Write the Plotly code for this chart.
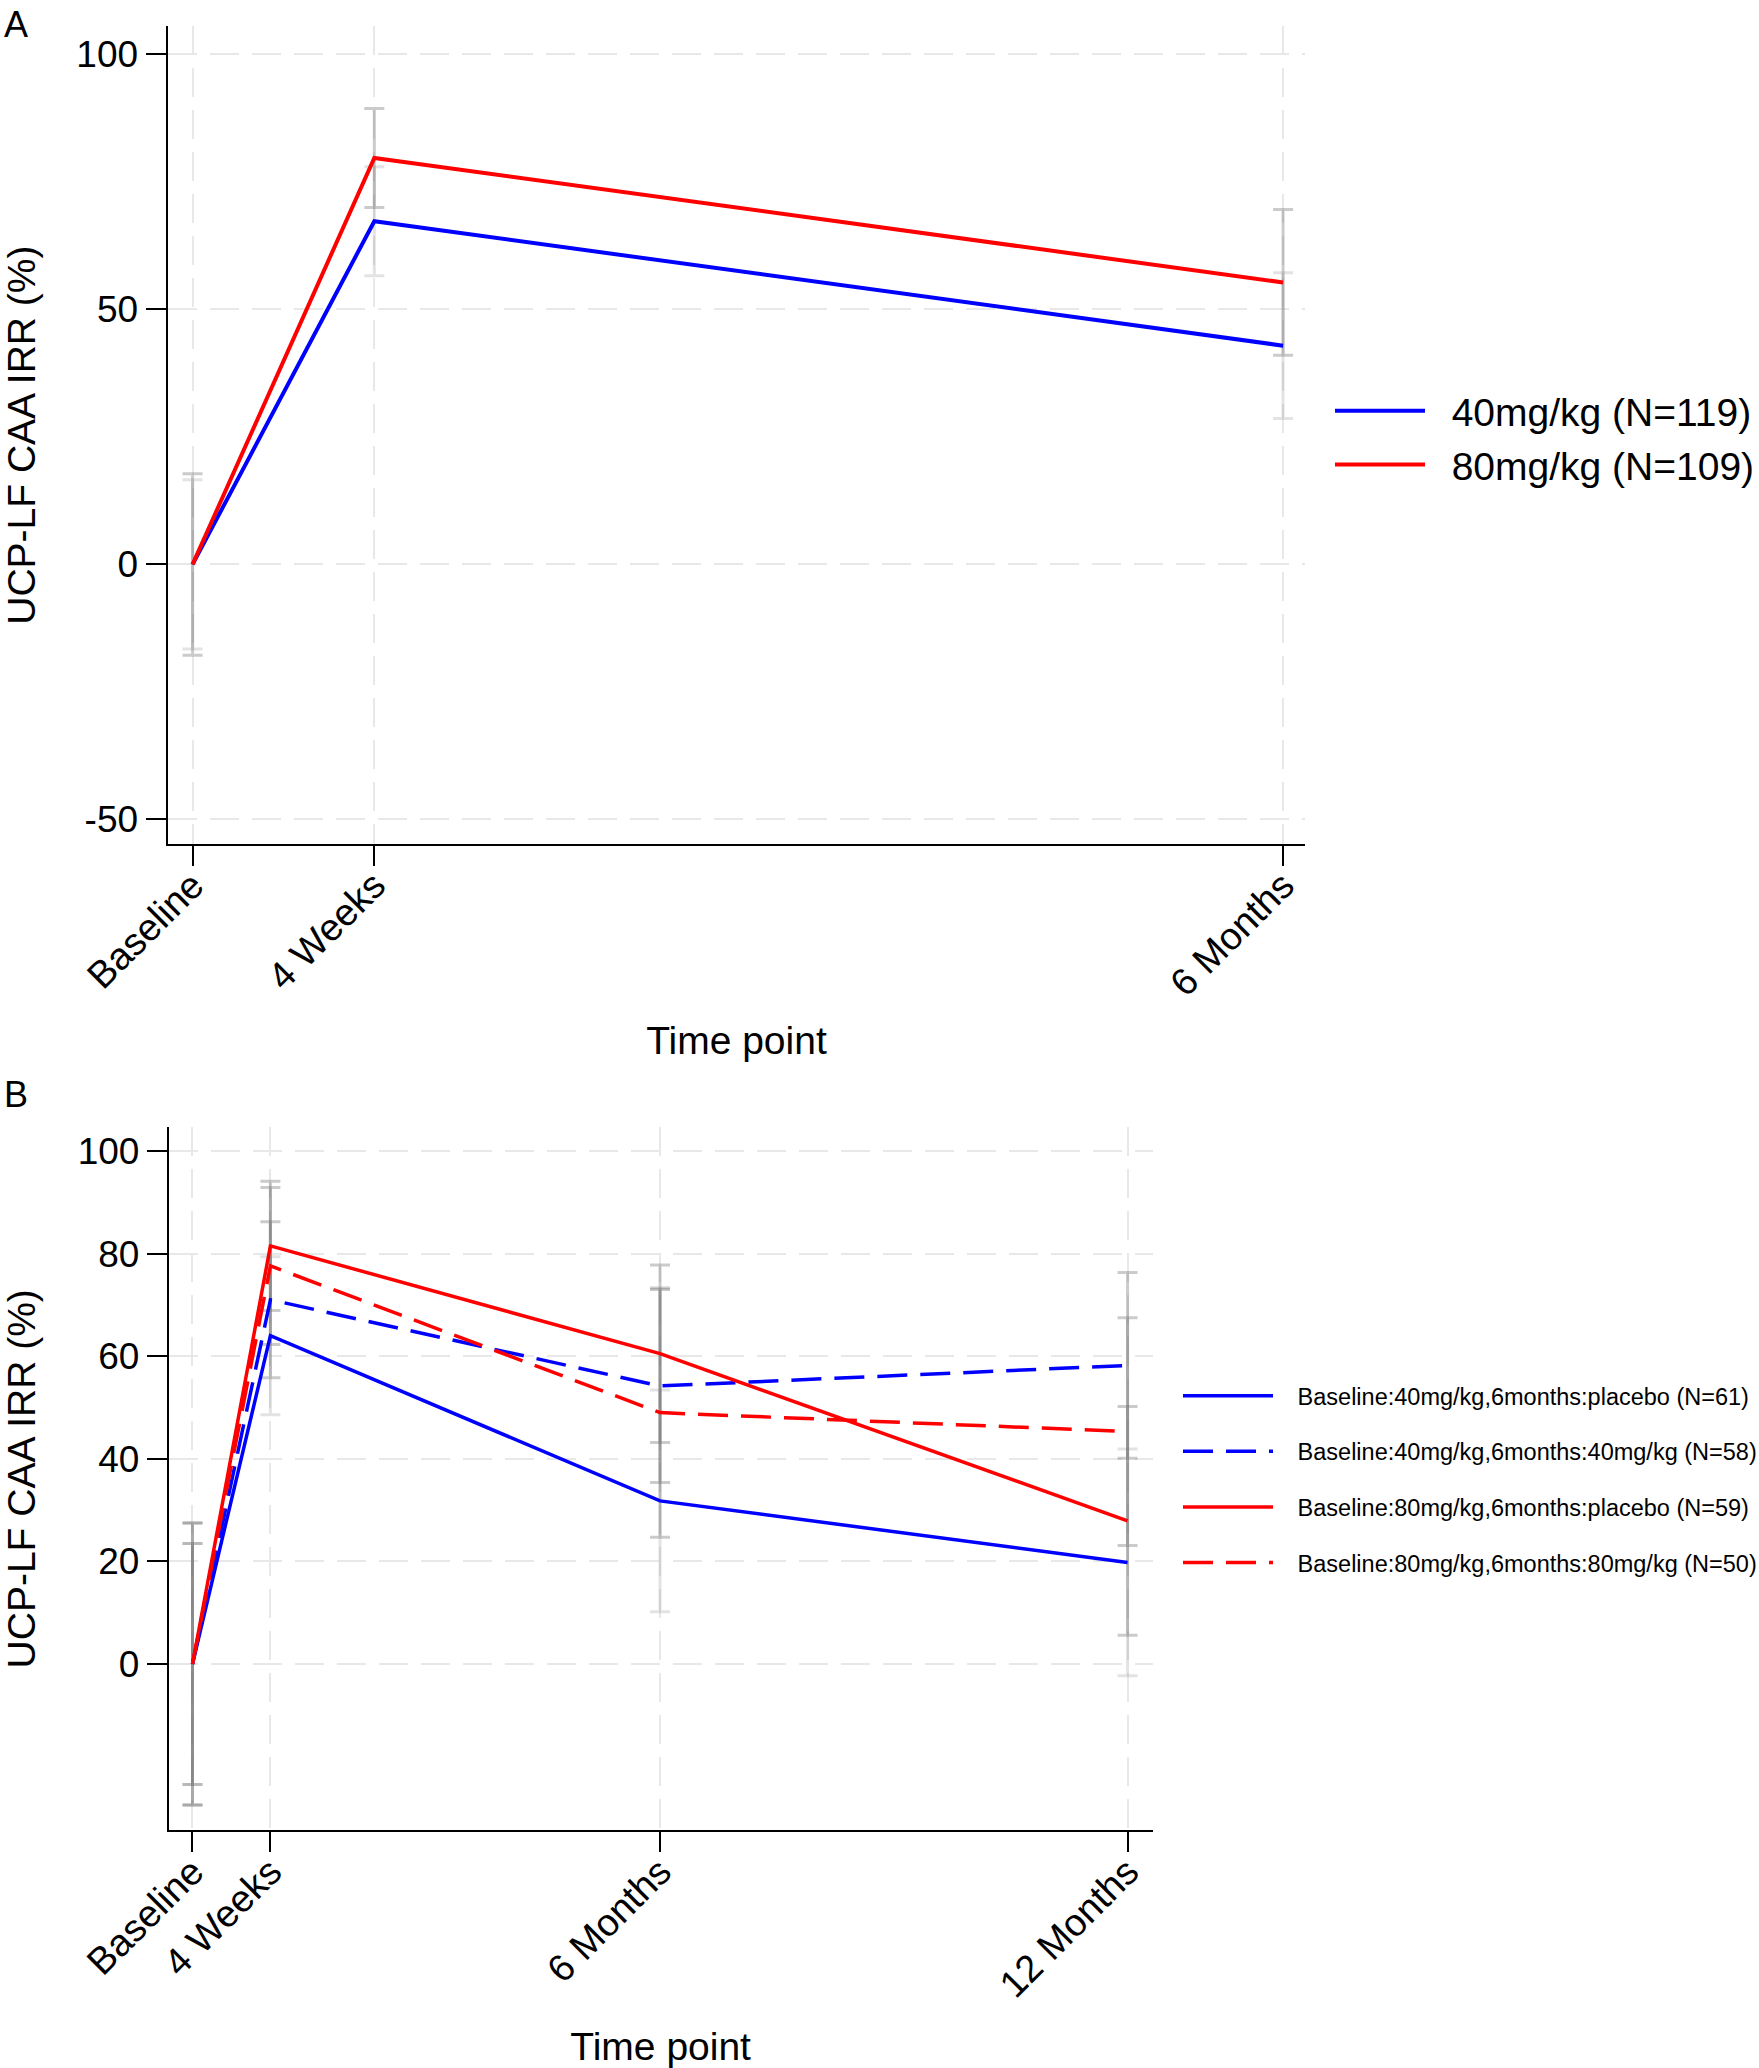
import plotly.graph_objects as go

W, H = 1759, 2068

# ---------------- data ----------------
time_a = [0, 1, 6]
labels_a = ["Baseline", "4 Weeks", "6 Months"]
yticks_a = [-50, 0, 50, 100]
yticklabels_a = ["-50", "0", "50", "100"]
a40 = [0, 67.3, 42.9]
a40_err = [16.6, 10.7, 14.3]
a80 = [0, 79.7, 55.3]
a80_err = [17.8, 9.7, 14.3]
names_a = ["40mg/kg (N=119)", "80mg/kg (N=109)"]

time_b = [0, 1, 6, 12]
labels_b = ["Baseline", "4 Weeks", "6 Months", "12 Months"]
yticks_b = [0, 20, 40, 60, 80, 100]
b40p = [0, 64.0, 31.8, 19.8]
b40p_err = [23.5, 15.4, 21.6, 22.1]
b4040 = [0, 71.0, 54.2, 58.2]
b4040_err = [23.5, 15.2, 18.8, 18.1]
b80p = [0, 81.5, 60.5, 27.9]
b80p_err = [27.5, 12.6, 17.3, 22.3]
b8080 = [0, 77.6, 49.0, 45.3]
b8080_err = [27.5, 15.3, 24.3, 22.2]
names_b = [
    "Baseline:40mg/kg,6months:placebo (N=61)",
    "Baseline:40mg/kg,6months:40mg/kg (N=58)",
    "Baseline:80mg/kg,6months:placebo (N=59)",
    "Baseline:80mg/kg,6months:80mg/kg (N=50)",
]

BLUE, RED = "#0000ff", "#ff0000"
DASH = "30px,13px"
FONT = "Liberation Sans, Arial, sans-serif"
ERR_LIGHT = "rgba(128,128,128,0.22)"
ERR_MID = "rgba(110,110,110,0.36)"
NB = "\u00a0"

fig = go.Figure()

def err_trace(x, y, e, col, xa, ya):
    fig.add_trace(go.Scatter(
        x=x, y=y, mode="markers", marker=dict(size=1, opacity=0),
        error_y=dict(type="data", array=e, visible=True, color=col, thickness=3, width=10),
        showlegend=False, hoverinfo="skip", xaxis=xa, yaxis=ya))

# Panel A error bars
err_trace(time_a, a40, a40_err, ERR_LIGHT, "x", "y")
err_trace(time_a, a80, a80_err, ERR_MID, "x", "y")
# Panel B error bars
for yv, ev, col in [(b40p, b40p_err, ERR_LIGHT), (b4040, b4040_err, ERR_MID),
                    (b80p, b80p_err, ERR_MID), (b8080, b8080_err, ERR_MID)]:
    err_trace(time_b, yv, ev, col, "x2", "y2")

# Panel A lines
fig.add_trace(go.Scatter(x=time_a, y=a40, mode="lines", name=NB * 2 + names_a[0],
                         line=dict(color=BLUE, width=4), legend="legend",
                         xaxis="x", yaxis="y", legendgroup="a1"))
fig.add_trace(go.Scatter(x=time_a, y=a80, mode="lines", name=NB * 2 + names_a[1],
                         line=dict(color=RED, width=4), legend="legend",
                         xaxis="x", yaxis="y", legendgroup="a2"))

# Panel B lines
specs = [(b40p, BLUE, "solid"), (b4040, BLUE, DASH), (b80p, RED, "solid"), (b8080, RED, DASH)]
for i, (yv, col, dash) in enumerate(specs):
    fig.add_trace(go.Scatter(x=time_b, y=yv, mode="lines", name=NB * 3 + names_b[i],
                             line=dict(color=col, width=3.5, dash=dash), legend="legend2",
                             xaxis="x2", yaxis="y2", legendgroup="b%d" % i))

grid = dict(showgrid=True, gridcolor="#e8e8e8", gridwidth=2, griddash="29px,13px")
axis_common = dict(showline=True, linecolor="black", linewidth=2, ticks="outside",
                   ticklen=20, tickwidth=2, tickcolor="black", zeroline=False,
                   automargin=False, **grid)
yfont = dict(family=FONT, size=37, color="black")
xfont = dict(family=FONT, size=38, color="black")

def xdom(a, b):
    return [a / W, b / W]

def ydom(top, bottom):
    return [1 - bottom / H, 1 - top / H]

fig.update_layout(
    width=W, height=H,
    margin=dict(l=0, r=0, t=0, b=0, autoexpand=False),
    paper_bgcolor="white", plot_bgcolor="white",
    font=dict(family=FONT, color="black"),
    xaxis=dict(domain=xdom(167.5, 1305.4), range=[-0.138, 6.123], tickmode="array",
               tickvals=time_a, ticktext=labels_a, tickangle=-45, anchor="y",
               ticklabelstandoff=-18, tickfont=xfont,
               title=dict(text="Time point", font=dict(size=39), standoff=24), **axis_common),
    yaxis=dict(domain=ydom(26.4, 843.9), range=[-54.8, 105.5], tickmode="array",
               tickvals=yticks_a, ticktext=yticklabels_a, anchor="x", tickfont=yfont,
               title=dict(text="UCP-LF CAA IRR (%)", font=dict(size=39), standoff=30), **axis_common),
    xaxis2=dict(domain=xdom(168.8, 1152.5), range=[-0.304, 12.32], tickmode="array",
                tickvals=time_b, ticktext=labels_b, tickangle=-45, anchor="y2",
                ticklabelstandoff=-18, tickfont=xfont,
                title=dict(text="Time point", font=dict(size=39), standoff=36), **axis_common),
    yaxis2=dict(domain=ydom(1127.4, 1830.2), range=[-32.4, 104.6], tickmode="array",
                tickvals=yticks_b, anchor="x2", tickfont=yfont,
                title=dict(text="UCP-LF CAA IRR (%)", font=dict(size=39), standoff=30), **axis_common),
    legend=dict(x=1330 / W, y=1 - 379 / H, xanchor="left", yanchor="top",
                font=dict(family=FONT, size=39, color="black"), itemwidth=90,
                bgcolor="rgba(0,0,0,0)", tracegroupgap=0),
    legend2=dict(x=1178 / W, y=1 - 1374 / H, xanchor="left", yanchor="top",
                 font=dict(family=FONT, size=23.5, color="black"), itemwidth=90,
                 bgcolor="rgba(0,0,0,0)", tracegroupgap=22),
    annotations=[
        dict(text="A", x=16 / W, y=1 - 24 / H, xref="paper", yref="paper", showarrow=False,
             font=dict(family=FONT, size=36, color="black"), xanchor="center", yanchor="middle"),
        dict(text="B", x=16 / W, y=1 - 1094 / H, xref="paper", yref="paper", showarrow=False,
             font=dict(family=FONT, size=36, color="black"), xanchor="center", yanchor="middle"),
    ],
)

fig.write_html("out.html")
